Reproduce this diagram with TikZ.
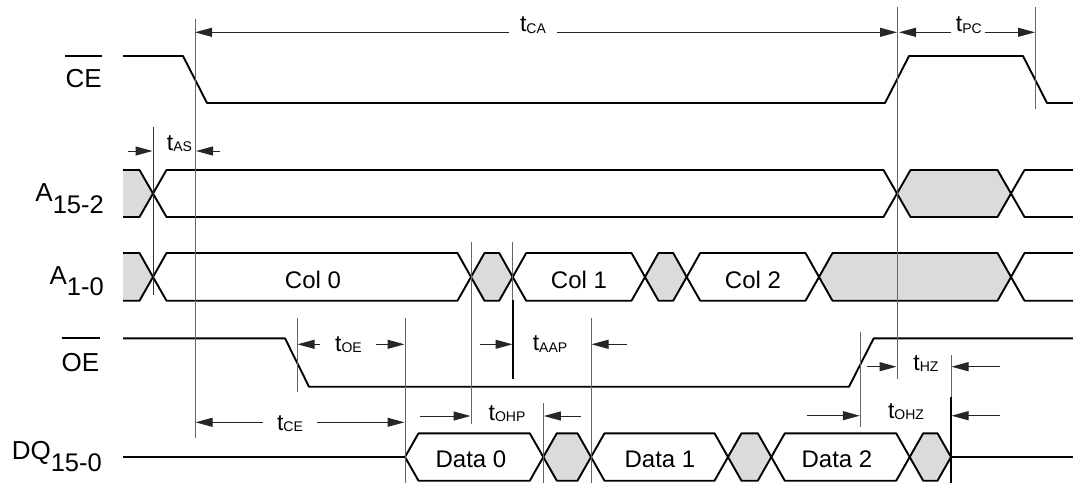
\documentclass[tikz,border=0pt]{standalone}
\usepackage{fontspec}
\setmainfont{Liberation Sans}
\usetikzlibrary{arrows.meta}
\newcommand\tlab[1]{t\raisebox{-1.8pt}{\fontsize{14}{14}\selectfont #1}}
\newcommand\lsub[1]{\raisebox{-11.8pt}{\fontsize{25.5}{26}\selectfont #1}}
\newcommand\hexbus[6]{\filldraw[sig,fill=#6] (#1,#4) -- ({#1+13.5},#3) -- ({#2-13.5},#3) -- (#2,#4) -- ({#2-13.5},#5) -- ({#1+13.5},#5) -- cycle;}
\begin{document}
\begin{tikzpicture}[x=1pt,y=-1pt,
 sig/.style={line width=1.9pt, line join=round},
 ref/.style={line width=1pt, black!60},
 dim/.style={line width=1pt, black!85, -{Triangle[length=17pt,width=9pt]}},
 tl/.style={font=\fontsize{23}{24}\selectfont, inner sep=0pt, anchor=base},
 sl/.style={font=\fontsize{26}{28}\selectfont, inner sep=0pt, anchor=base east},
 bl/.style={font=\fontsize{24}{26}\selectfont, inner sep=0pt, anchor=base},
 dc/.style={black!14}]
\useasboundingbox (0,0) rectangle (1073,483);

% ---------- signal labels
\node[sl] (ce) at (102,87.7) {CE};
\draw[line width=1.8pt] (ce.west |- 0,56) -- (ce.east |- 0,56);
\node[sl] (a152) at (104,201.7) {A\lsub{15-2}};
\node[sl] (a10) at (104,284) {A\lsub{1-0}};
\node[sl] (oe) at (99.5,371) {OE};
\draw[line width=1.8pt] (oe.west |- 0,338.3) -- (oe.east |- 0,338.3);
\node[sl] (dq) at (102,459.3) {DQ\lsub{15-0}};

% ---------- CE
\draw[sig] (123,56) -- (183,56) -- (207,103) -- (885,103) -- (909,56) -- (1023,56) -- (1047,103) -- (1073,103);

% ---------- A15-2
\fill[dc] (123,170) -- (139.5,170) -- (153,193.5) -- (139.5,217) -- (123,217) -- cycle;
\draw[sig] (123,170) -- (139.5,170) -- (153,193.5) -- (139.5,217) -- (123,217);
\hexbus{153}{897}{170}{193.5}{217}{white}
\hexbus{897}{1011}{170}{193.5}{217}{black!14}
\draw[sig] (1073,170) -- (1024.5,170) -- (1011,193.5) -- (1024.5,217) -- (1073,217);

% ---------- A1-0
\fill[dc] (123,253) -- (139.5,253) -- (153,277) -- (139.5,300.7) -- (123,300.7) -- cycle;
\draw[sig] (123,253) -- (139.5,253) -- (153,277) -- (139.5,300.7) -- (123,300.7);
\hexbus{153}{471}{253}{277}{300.7}{white}
\hexbus{471}{512.7}{253}{277}{300.7}{black!14}
\hexbus{512.7}{645}{253}{277}{300.7}{white}
\hexbus{645}{686.7}{253}{277}{300.7}{black!14}
\hexbus{686.7}{819}{253}{277}{300.7}{white}
\hexbus{819}{1011}{253}{277}{300.7}{black!14}
\draw[sig] (1073,253) -- (1024.5,253) -- (1011,277) -- (1024.5,300.7) -- (1073,300.7);
\node[bl] (c0) at (313,288.5) {Col 0};
\node[bl] (c1) at (579,288.5) {Col 1};
\node[bl] (c2) at (753,288.5) {Col 2};

% ---------- OE
\draw[sig] (123,338.3) -- (285,338.3) -- (309,386.7) -- (849,386.7) -- (873.7,338.3) -- (1073,338.3);

% ---------- DQ
\draw[sig] (123,457) -- (405,457);
\hexbus{405}{543.3}{433.3}{457}{480.7}{white}
\hexbus{543.3}{591}{433.3}{457}{480.7}{black!14}
\hexbus{591}{728}{433.3}{457}{480.7}{white}
\hexbus{728}{771.3}{433.3}{457}{480.7}{black!14}
\hexbus{771.3}{909.7}{433.3}{457}{480.7}{white}
\filldraw[sig,fill=black!14] (909.7,457) -- (923.2,433.3) -- (937.5,433.3) -- (951,457) -- (937.5,480.7) -- (923.2,480.7) -- cycle;
\draw[sig] (951,457) -- (1073,457);
\draw[line width=1.9pt] (951,397) -- (951,483);
\node[bl] (d0) at (471,467.7) {Data 0};
\node[bl] (d1) at (660,467.7) {Data 1};
\node[bl] (d2) at (837,467.7) {Data 2};

% ---------- reference lines
\draw[ref] (195,19) -- (195,438);
\draw[ref] (897,7) -- (897,379);
\draw[ref] (1035,7) -- (1035,109);
\draw[ref, black!80] (153,127) -- (153,295);
\draw[ref] (471,241.7) -- (471,424);
\draw[ref] (512.7,241.7) -- (512.7,300);
\draw[line width=1.6pt] (512.7,300) -- (512.7,379);
\draw[ref] (297,318) -- (297,391.7);
\draw[ref] (405,318) -- (405,483);
\draw[ref] (591,318) -- (591,483);
\draw[ref] (543.3,403) -- (543.3,483);
\draw[ref] (860.3,331.7) -- (860.3,427);
\draw[ref] (951,355) -- (951,397);

% ---------- timing annotations
\node[tl] (tca) at (533,31.7) {\tlab{CA}};
\draw[dim] (509,32.3) -- (195,32.3);
\draw[dim] (557,32.3) -- (897,32.3);
\node[tl] (tpc) at (968.8,31.7) {\tlab{PC}};
\draw[dim] (951.3,32.3) -- (899,32.3);
\draw[dim] (984.7,32.3) -- (1035,32.3);
\node[tl] (tas) at (179.5,150) {\tlab{AS}};
\draw[dim] (128,151) -- (152.5,151);
\draw[dim] (220,151) -- (196,151);
\node[tl] (toe) at (348.5,351) {\tlab{OE}};
\draw[dim] (320,344.3) -- (297.5,344.3);
\draw[dim] (376,344.3) -- (404.5,344.3);
\node[tl] (taap) at (550,350.5) {\tlab{AAP}};
\draw[dim] (480,344.3) -- (512.5,344.3);
\draw[dim] (626.7,344.3) -- (591.5,344.3);
\node[tl] (tohp) at (507,420) {\tlab{OHP}};
\draw[dim] (420,416) -- (470.5,416);
\draw[dim] (581,416) -- (543.8,416);
\node[tl] (tce) at (290,430) {\tlab{CE}};
\draw[dim] (263,422.3) -- (195.5,422.3);
\draw[dim] (316.7,422.3) -- (404.5,422.3);
\node[tl] (thz) at (926,370) {\tlab{HZ}};
\draw[dim] (867,366.7) -- (896.5,366.7);
\draw[dim] (999.7,366.7) -- (951.5,366.7);
\node[tl] (tohz) at (906,418) {\tlab{OHZ}};
\draw[dim] (807,415.7) -- (859.8,415.7);
\draw[dim] (999.7,415.7) -- (951.5,415.7);
\end{tikzpicture}
\end{document}
